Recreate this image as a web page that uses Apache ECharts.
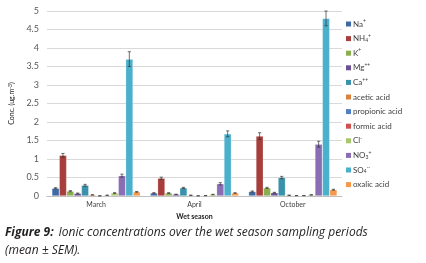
<!DOCTYPE html>
<html><head><meta charset="utf-8">
<script src="https://cdn.jsdelivr.net/npm/echarts@6/dist/echarts.min.js"></script>
<style>html,body{margin:0;padding:0;background:#fff}#c{width:426px;height:263px}</style>
</head><body><div id="c"></div>
<script>
const categories = ["March", "April", "October"];
const seriesNames = ["Na{s|+}", "NH{b|4}{s|+}", "K{s|+}", "Mg{s|++}", "Ca{s|++}", "acetic acid", "propionic acid", "formic acid", "Cl{s|-}", "NO{b|3}{s|+}", "SO{b|4}{s|--}", "oxalic acid"];
const na = [0.21, 0.08, 0.12];
const nh4 = [1.10, 0.48, 1.62];
const k = [0.13, 0.08, 0.22];
const mg = [0.07, 0.045, 0.09];
const ca = [0.29, 0.22, 0.50];
const acetic = [0.03, 0.02, 0.02];
const propionic = [0.005, 0.005, 0.01];
const formic = [0.02, 0.01, 0.01];
const cl = [0.08, 0.04, 0.03];
const no3 = [0.55, 0.33, 1.40];
const so4 = [3.70, 1.68, 4.80];
const oxalic = [0.11, 0.08, 0.17];
const naErr = [0.015, 0.01, 0.015];
const nh4Err = [0.05, 0.03, 0.09];
const kErr = [0.015, 0.01, 0.015];
const mgErr = [0.01, 0.005, 0.01];
const caErr = [0.025, 0.015, 0.03];
const aceticErr = [0.005, 0.005, 0.005];
const propionicErr = [0.002, 0.002, 0.002];
const formicErr = [0.004, 0.003, 0.003];
const clErr = [0.01, 0.006, 0.006];
const no3Err = [0.04, 0.03, 0.08];
const so4Err = [0.2, 0.08, 0.2];
const oxalicErr = [0.01, 0.008, 0.012];

const values = [na, nh4, k, mg, ca, acetic, propionic, formic, cl, no3, so4, oxalic];
const errors = [naErr, nh4Err, kErr, mgErr, caErr, aceticErr, propionicErr, formicErr, clErr, no3Err, so4Err, oxalicErr];
const colors = ["#3E6AA3", "#A83E3C", "#8AAE4E", "#6B5193", "#3A91AB", "#D9833E", "#4F81C4", "#D0504D", "#A8C76A", "#8A6DB3", "#4BB0CB", "#F7974A"];
const N = values.length;
const GAP = 0.10;

const series = [];
values.forEach((v, i) => {
  series.push({
    type: 'bar', name: seriesNames[i], data: v, barGap: '0%', barCategoryGap: (GAP*100)+'%',
    itemStyle: { color: colors[i], borderColor: 'rgba(255,255,255,0.35)', borderWidth: 0.6 },
    emphasis: { disabled: true }
  });
});
values.forEach((v, i) => {
  series.push({
    type: 'custom', name: seriesNames[i] + '_err', silent: true, z: 5,
    data: v.map((val, j) => [j, val - errors[i][j], val + errors[i][j]]),
    renderItem: function (params, api) {
      const x = api.value(0);
      const lo = api.coord([x, api.value(1)]);
      const hi = api.coord([x, api.value(2)]);
      const cw = api.size([1, 0])[0];
      const bw = cw * (1 - GAP) / N;
      const cx = lo[0] - cw * (1 - GAP) / 2 + bw * (i + 0.5);
      const hw = 1.6;
      const st = { stroke: '#333', lineWidth: 0.7, fill: null };
      return { type: 'group', children: [
        { type: 'line', shape: { x1: cx, y1: lo[1], x2: cx, y2: hi[1] }, style: st },
        { type: 'line', shape: { x1: cx - hw, y1: hi[1], x2: cx + hw, y2: hi[1] }, style: st },
        { type: 'line', shape: { x1: cx - hw, y1: lo[1], x2: cx + hw, y2: lo[1] }, style: st }
      ]};
    }
  });
});

const chart = echarts.init(document.getElementById('c'), null, { renderer: 'canvas' });
const FF = 'Lato, "Open Sans", sans-serif';
chart.setOption({
  animation: false,
  backgroundColor: '#fff',
  title: {
    left: 5, top: 224, padding: 0,
    text: '{b|Figure 9:} {i|Ionic concentrations over the wet season sampling periods}\n{i|(mean ± SEM).}',
    textStyle: {
      fontWeight: 'normal',
      rich: {
        b: { fontFamily: '"Open Sans", sans-serif', fontStyle: 'italic', fontWeight: 'bold', fontSize: 12, color: '#231F20', lineHeight: 18 },
        i: { fontFamily: '"Open Sans", sans-serif', fontStyle: 'italic', fontWeight: 'normal', fontSize: 12, color: '#231F20', lineHeight: 18 }
      }
    }
  },
  legend: {
    orient: 'vertical', left: 346, top: 19, padding: 0,
    itemWidth: 5, itemHeight: 5, itemGap: 4.6,
    icon: 'rect',
    data: seriesNames.map((n, i) => ({ name: n, itemStyle: { color: colors[i], borderWidth: 0 } })),
    formatter: function (n) { return n; },
    textStyle: {
      fontFamily: FF, fontSize: 8, color: '#404040', lineHeight: 10, padding: [0, 0, 0, -3],
      rich: {
        s: { fontSize: 5, verticalAlign: 'top', lineHeight: 10, padding: [0, 0, 3, 0], fontFamily: FF, color: '#404040' },
        b: { fontSize: 5, lineHeight: 10, padding: [3, 0, 0, 0], fontFamily: FF, color: '#404040' }
      }
    }
  },
  grid: { left: 33, right: 84, top: 11, bottom: 67, containLabel: false },
  xAxis: {
    type: 'category', data: categories,
    name: 'Wet season', nameLocation: 'middle', nameGap: 14,
    nameTextStyle: { fontFamily: FF, fontSize: 7, fontWeight: 'bold', color: '#222', padding: [0, 0, 0, 0] },
    axisLine: { lineStyle: { color: '#BFBFBF', width: 1 } },
    axisTick: { show: false },
    axisLabel: { fontFamily: FF, fontSize: 7, color: '#404040', margin: 5 }
  },
  yAxis: {
    type: 'value', min: 0, max: 5, interval: 0.5,
    name: 'Conc. (ug.m{s|-3})', nameLocation: 'middle', nameGap: 21, nameRotate: 90,
    nameTextStyle: { fontFamily: FF, fontSize: 7, color: '#222', rich: { s: { fontSize: 5, verticalAlign: 'top', padding: [0,0,3,0], fontFamily: FF, color: '#222' } } },
    axisLine: { show: false }, axisTick: { show: false },
    splitLine: { lineStyle: { color: '#D9D9D9', width: 1 } },
    axisLabel: { fontFamily: FF, fontSize: 9, color: '#595959', margin: 8, formatter: v => String(v) }
  },
  series: series
});
</script></body></html>
